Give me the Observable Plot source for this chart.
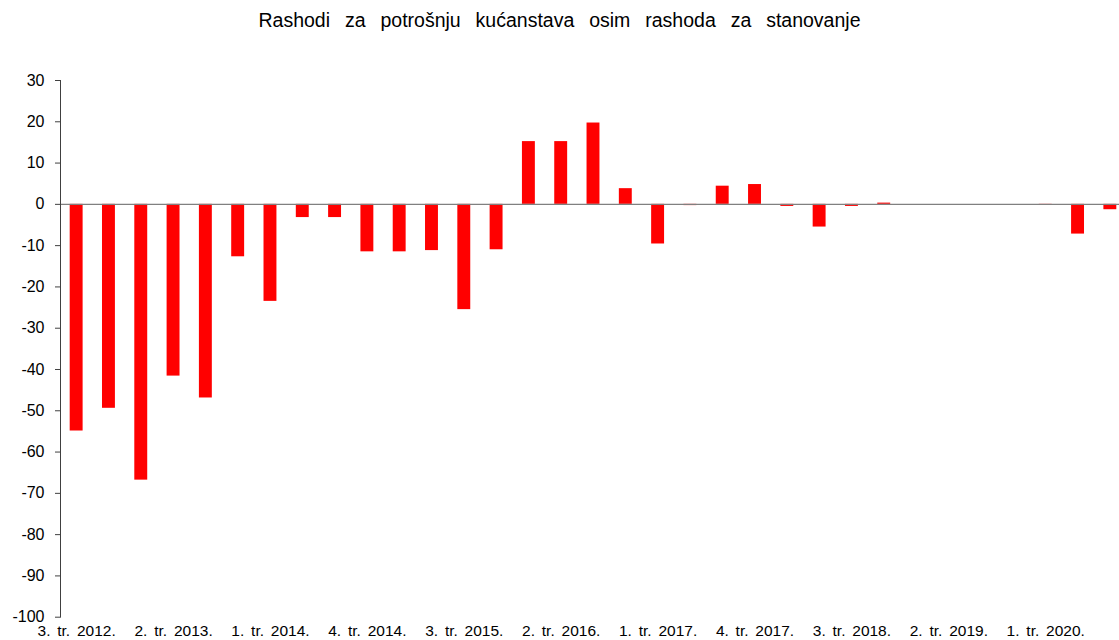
<!DOCTYPE html>
<html>
<head>
<meta charset="utf-8">
<script src="https://cdn.jsdelivr.net/npm/d3@7"></script>
<script src="https://cdn.jsdelivr.net/npm/@observablehq/plot@0.6"></script>
<style>
  html, body { margin: 0; padding: 0; background: #fff; overflow: hidden; }
  #wrap { position: relative; width: 1119px; height: 640px; font-family: "Liberation Sans", Arial, sans-serif; }
  #title { position: absolute; top: 10px; left: 0; width: 1119px; text-align: center; font-size: 19.5px; line-height: 20px; color: #000; word-spacing: 9.5px; }
  #chart { position: absolute; top: 40px; left: 0; }
</style>
</head>
<body>
<div id="wrap">
  <div id="title">Rashodi za potrošnju kućanstava osim rashoda za stanovanje</div>
  <div id="chart"></div>
</div>
<script>
const quarters = [
  "3. tr. 2012.", "4. tr. 2012.",
  "1. tr. 2013.", "2. tr. 2013.", "3. tr. 2013.", "4. tr. 2013.",
  "1. tr. 2014.", "2. tr. 2014.", "3. tr. 2014.", "4. tr. 2014.",
  "1. tr. 2015.", "2. tr. 2015.", "3. tr. 2015.", "4. tr. 2015.",
  "1. tr. 2016.", "2. tr. 2016.", "3. tr. 2016.", "4. tr. 2016.",
  "1. tr. 2017.", "2. tr. 2017.", "3. tr. 2017.", "4. tr. 2017.",
  "1. tr. 2018.", "2. tr. 2018.", "3. tr. 2018.", "4. tr. 2018.",
  "1. tr. 2019.", "2. tr. 2019.", "3. tr. 2019.", "4. tr. 2019.",
  "1. tr. 2020.", "2. tr. 2020.", "3. tr. 2020."
];
const values = [
  -54.9, -49.4,
  -66.8, -41.6, -46.9, -12.7,
  -23.5, -3.2, -3.2, -11.5,
  -11.5, -11.2, -25.5, -11.0,
  15.2, 15.2, 19.7, 3.8,
  -9.6, -0.3, 4.4, 4.8,
  -0.5, -5.5, -0.5, 0.3,
  0, 0, 0, 0,
  -0.2, -7.2, -1.3
];
const tickLabels = [
  "3. tr. 2012.", "2. tr. 2013.", "1. tr. 2014.", "4. tr. 2014.",
  "3. tr. 2015.", "2. tr. 2016.", "1. tr. 2017.", "4. tr. 2017.",
  "3. tr. 2018.", "2. tr. 2019.", "1. tr. 2020."
];
const yTicks = [30, 20, 10, 0, -10, -20, -30, -40, -50, -60, -70, -80, -90, -100];

const data = quarters.map((q, i) => ({q, v: values[i]}));

const chart = Plot.plot({
  width: 1119,
  height: 600,
  marginLeft: 60,
  marginRight: -7,
  marginTop: 40,
  marginBottom: 23.3,
  style: {fontFamily: "'Liberation Sans', Arial, sans-serif", background: "#fff", color: "#000", overflow: "hidden"},
  x: {domain: quarters, paddingInner: 0.6, paddingOuter: 0.3, align: 0.5, round: false},
  y: {domain: [-100, 30]},
  marks: [
    Plot.barY(data, {x: "q", y: "v", fill: "#ff0000"}),
    Plot.ruleY([0], {stroke: "#808080", strokeWidth: 1.2}),
    Plot.frame({anchor: "left", stroke: "#404040"}),
    Plot.axisY({ticks: yTicks, tickFormat: d => String(d), tickSize: 5, tickPadding: 11, label: null, fontSize: 16, stroke: "#404040", fill: "#000"}),
    Plot.axisX({ticks: tickLabels, tickSize: 0, tickPadding: 8, label: null, fontSize: 15.5, fill: "#000"})
  ]
});
chart.querySelectorAll("text").forEach(t => t.style.wordSpacing = "2.5px");
document.getElementById("chart").appendChild(chart);
</script>
</body>
</html>
